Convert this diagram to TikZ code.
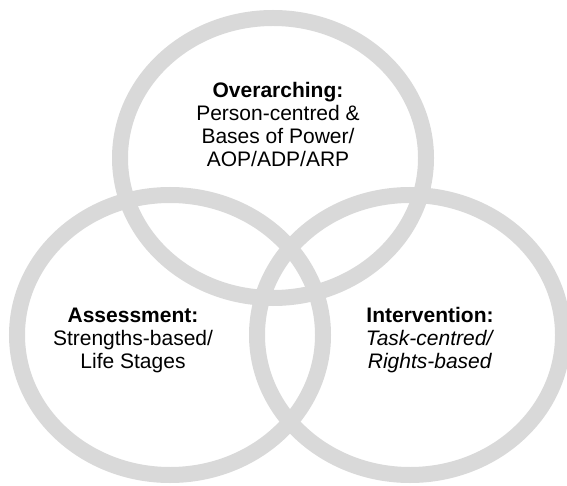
\documentclass[tikz,border=0pt]{standalone}
\usepackage{fontspec}
\setmainfont{Liberation Sans}
\usetikzlibrary{shapes.geometric}
\definecolor{ringgrey}{RGB}{217,217,217}

\begin{document}
\begin{tikzpicture}[
    x=1pt, y=-1pt,
    ring/.style={ellipse, draw=ringgrey, line width=16pt, minimum width=306pt, minimum height=280pt, inner sep=0pt},
    blurb/.style={align=center, font=\fontsize{21}{23}\selectfont, text=black}
  ]
  \useasboundingbox (0,0) rectangle (567,486);

  % Rings
  \node[ring] (over) at (273,158) {};
  \node[ring] (assess) at (170,335) {};
  \node[ring] (inter) at (410,335) {};

  % Texts
  \node[blurb] (overtext) at (278,124) {\textbf{Overarching:}\\Person-centred \&\\Bases of Power/\\AOP/ADP/ARP};
  \node[blurb] (assesstext) at (133,340) {\textbf{Assessment:}\\Strengths-based/\\Life Stages};
  \node[blurb] (intertext) at (430,340) {\textbf{Intervention:}\\\textit{Task-centred/}\\\textit{Rights-based}};

\end{tikzpicture}
\end{document}
